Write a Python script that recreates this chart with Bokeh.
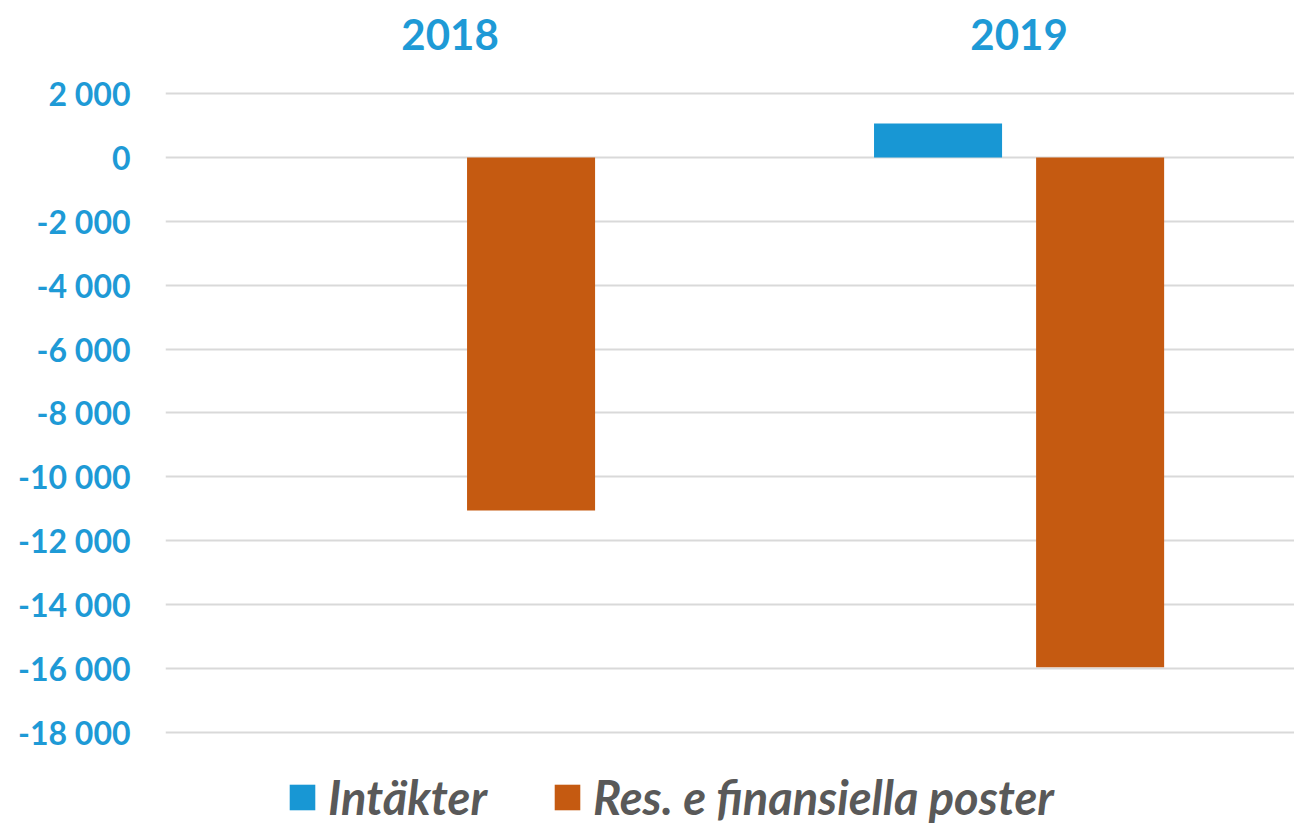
from bokeh.plotting import figure
from bokeh.models import Range1d, FixedTicker, Legend, LegendItem, ColumnDataSource
from bokeh.embed import file_html
from bokeh.resources import INLINE
from bokeh.transform import dodge

years = ["2018", "2019"]
intakter = [0, 1060]
res_fin = [-11050, -15960]
series_names = ["Intäkter", "Res. e finansiella poster"]
y_ticks = [2000, 0, -2000, -4000, -6000, -8000, -10000, -12000, -14000, -16000, -18000]
y_tick_labels = ["2 000", "0", "-2 000", "-4 000", "-6 000", "-8 000", "-10 000",
                 "-12 000", "-14 000", "-16 000", "-18 000"]

BLUE = "#1897D4"
ORANGE = "#C55A11"
LABEL_BLUE = "#1E9AD6"
FONT = "Lato"

x_idx = list(range(len(years)))
src = ColumnDataSource(dict(x=x_idx, intakter=intakter, res=res_fin))

p = figure(width=1294, height=825, output_backend="svg", toolbar_location=None,
           x_range=Range1d(-0.5, 1.484), y_range=Range1d(-20911, 2156),
           x_axis_location="above",
           min_border_left=165, min_border_right=0, min_border_top=88, min_border_bottom=0)
p.outline_line_color = None
p.background_fill_color = "white"
p.border_fill_color = "white"

r1 = p.vbar(x=dodge("x", -0.1424, range=p.x_range), top="intakter", bottom=0, width=0.225,
            source=src, fill_color=BLUE, line_color=None)
r2 = p.vbar(x=dodge("x", 0.1424, range=p.x_range), top="res", bottom=0, width=0.225,
            source=src, fill_color=ORANGE, line_color=None)

p.xgrid.visible = False
p.ygrid.grid_line_color = "#D9D9D9"
p.ygrid.grid_line_width = 2

yax = p.yaxis[0]
yax.ticker = FixedTicker(ticks=y_ticks)
yax.major_label_overrides = {t: l for t, l in zip(y_ticks, y_tick_labels)}
yax.axis_line_color = None
yax.major_tick_line_color = None
yax.minor_tick_line_color = None
yax.major_tick_out = 0
yax.major_label_text_font = FONT
yax.major_label_text_font_style = "bold"
yax.major_label_text_font_size = "32px"
yax.major_label_text_color = LABEL_BLUE
yax.major_label_standoff = 35

xax = p.xaxis[0]
xax.ticker = FixedTicker(ticks=x_idx)
xax.major_label_overrides = {i: y for i, y in zip(x_idx, years)}
xax.axis_line_color = None
xax.major_tick_line_color = None
xax.minor_tick_line_color = None
xax.major_tick_out = 0
xax.major_label_text_font = FONT
xax.major_label_text_font_style = "bold"
xax.major_label_text_font_size = "42px"
xax.major_label_text_color = LABEL_BLUE
xax.major_label_standoff = 39

legend = Legend(items=[LegendItem(label=series_names[0], renderers=[r1]),
                       LegendItem(label=series_names[1], renderers=[r2])],
                orientation="horizontal", location=(121, 0))
legend.border_line_color = None
legend.background_fill_alpha = 0
legend.label_text_font = FONT
legend.label_text_font_style = "bold italic"
legend.label_text_font_size = "47px"
legend.label_text_color = "#595959"
legend.glyph_width = 32
legend.glyph_height = 32
legend.label_standoff = 10
legend.spacing = 64
legend.padding = 0
legend.margin = 0
p.add_layout(legend, "center")

open("out.html", "w").write(file_html(p, INLINE))
